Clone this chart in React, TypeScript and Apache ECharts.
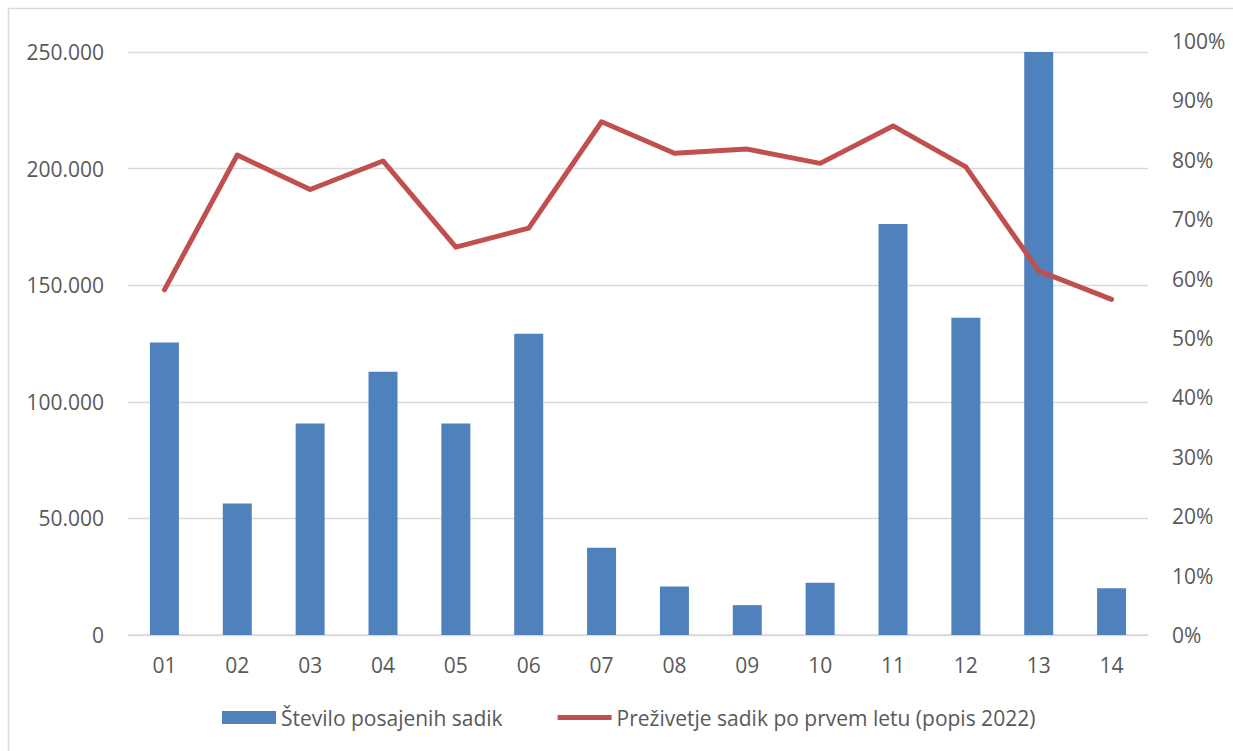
import React, { useEffect, useRef } from "react";
import * as echarts from "echarts";

const categories = ["01", "02", "03", "04", "05", "06", "07", "08", "09", "10", "11", "12", "13", "14"];
const seedlings = [125400, 56400, 90700, 112900, 90700, 129200, 37400, 20800, 12800, 22400, 176200, 136000, 250000, 20000];
const survival = [0.581, 0.808, 0.75, 0.798, 0.653, 0.685, 0.864, 0.811, 0.818, 0.794, 0.857, 0.788, 0.613, 0.565];
const barName = "Število posajenih sadik";
const lineName = "Preživetje sadik po prvem letu (popis 2022)";

const FONT = "Open Sans";
const TXT = "#595959";
const GRID = "#d9d9d9";

export default function App() {
  const ref = useRef<HTMLDivElement>(null);
  useEffect(() => {
    if (!ref.current) return;
    const chart = echarts.init(ref.current, undefined, { renderer: "svg" });
    const gridPos = { left: 128, right: 85, bottom: 116 };
    chart.setOption({
      animation: false,
      backgroundColor: "#ffffff",
      textStyle: { fontFamily: FONT },
      graphic: [
        {
          type: "rect",
          shape: { x: 8.5, y: 8.5, width: 1260, height: 800 },
          style: { fill: "none", stroke: GRID, lineWidth: 1.5 },
          silent: true,
        },
      ],
      grid: [
        { ...gridPos, top: 52 },
        { ...gridPos, top: 41 },
      ],
      legend: {
        top: 707,
        left: 222,
        padding: 0,
        itemGap: 55,
        itemWidth: 54,
        itemHeight: 13,
        textStyle: { color: TXT, fontSize: 21, fontFamily: FONT },
        data: [
          { name: barName, icon: "rect" },
          { name: lineName, icon: "path://M0,0 L54,0 L54,5 L0,5 Z" },
        ],
      },
      xAxis: [
        {
          type: "category",
          gridIndex: 0,
          data: categories,
          axisTick: { show: false },
          axisLine: { lineStyle: { color: GRID, width: 1.5 } },
          axisLabel: { color: TXT, fontSize: 21, fontFamily: FONT, margin: 19 },
        },
        {
          type: "category",
          gridIndex: 1,
          data: categories,
          show: false,
        },
      ],
      yAxis: [
        {
          type: "value",
          gridIndex: 0,
          min: 0,
          max: 250000,
          interval: 50000,
          axisLine: { show: false },
          axisTick: { show: false },
          splitLine: { lineStyle: { color: GRID, width: 1.3 } },
          axisLabel: {
            color: TXT,
            fontSize: 21,
            fontFamily: FONT,
            margin: 24,
            formatter: (v: number) =>
              v === 0 ? "0" : String(Math.round(v)).replace(/\B(?=(\d{3})+(?!\d))/g, "."),
          },
        },
        {
          type: "value",
          gridIndex: 1,
          position: "right",
          min: 0,
          max: 1,
          interval: 0.1,
          axisLine: { show: false },
          axisTick: { show: false },
          splitLine: { show: false },
          axisLabel: {
            color: TXT,
            fontSize: 21,
            fontFamily: FONT,
            margin: 24,
            formatter: (v: number) => Math.round(v * 100) + "%",
          },
        },
      ],
      series: [
        {
          name: barName,
          type: "bar",
          xAxisIndex: 0,
          yAxisIndex: 0,
          data: seedlings,
          barWidth: 29,
          itemStyle: { color: "#4f81bd" },
        },
        {
          name: lineName,
          type: "line",
          xAxisIndex: 1,
          yAxisIndex: 1,
          data: survival,
          symbol: "none",
          z: 5,
          itemStyle: { color: "#c0504d" },
          lineStyle: { color: "#c0504d", width: 5, cap: "round", join: "round" },
        },
      ],
    });
    return () => chart.dispose();
  }, []);
  return (
    <div
      ref={ref}
      style={{ position: "absolute", left: 0, top: 0, width: 1233, height: 751 }}
    />
  );
}
